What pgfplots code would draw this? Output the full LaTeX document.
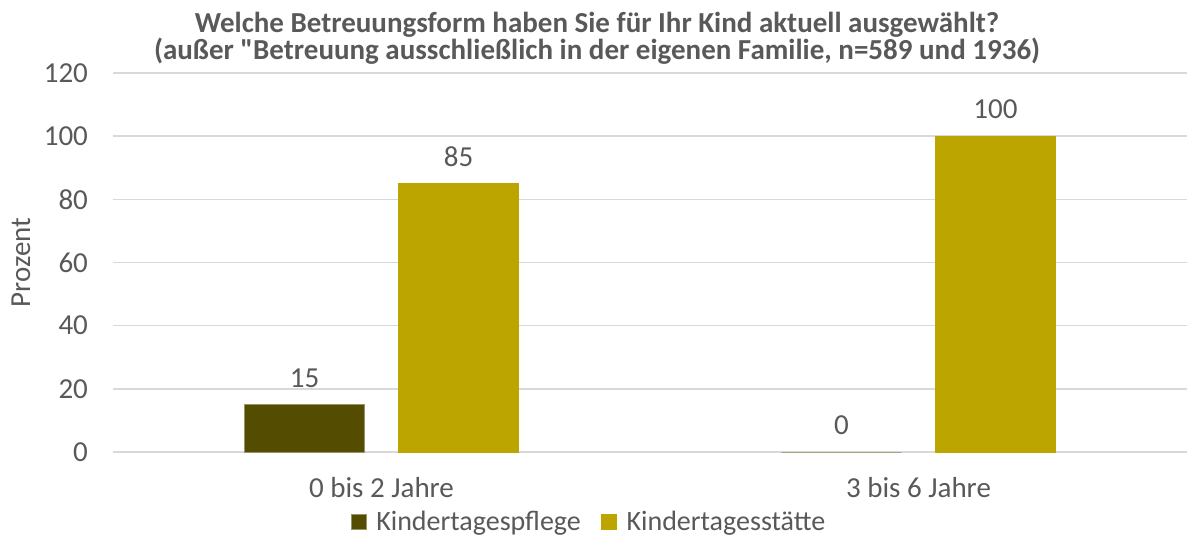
\documentclass[border=0pt]{standalone}
\usepackage{fontspec}
\setmainfont{Carlito}[Ligatures=TeXOff]
\usepackage{pgfplots}
\pgfplotsset{compat=1.18}
\definecolor{cPflege}{RGB}{84,76,0}
\definecolor{cStaette}{RGB}{189,165,0}
\definecolor{cText}{RGB}{89,89,89}
\definecolor{cGrid}{RGB}{217,217,217}
\begin{document}
\begin{tikzpicture}
\begin{axis}[
  scale only axis,
  width=537pt, height=189.5pt,
  ybar,
  xmin=-0.5, xmax=1.5,
  ymin=0, ymax=120,
  ytick={0,20,...,120},
  xtick={0,1},
  xticklabels={0 bis 2 Jahre,3 bis 6 Jahre},
  axis line style={draw=none},
  major tick length=0pt,
  ymajorgrids,
  major grid style={draw=cGrid, line width=0.8pt},
  tick label style={font=\fontsize{14.5}{17}\selectfont, text=cText},
  yticklabel style={xshift=-9pt},
  xticklabel style={yshift=-9pt},
  /pgf/number format/assume math mode=true,
  ylabel={Prozent},
  ylabel style={font=\fontsize{14.5}{17}\selectfont, text=cText, at={(axis description cs:-0.0857,0.5)}, anchor=center, rotate=0},
  title={Welche Betreuungsform haben Sie für Ihr Kind aktuell ausgewählt?\\(außer "Betreuung ausschließlich in der eigenen Familie, n=589 und 1936)},
  title style={at={(0.4507,1)}, anchor=south, yshift=-5pt, align=center, font=\bfseries\fontsize{14.5}{13.5}\selectfont, text=cText},
  bar width=0.2235,
  nodes near coords,
  every node near coord/.append style={font=\fontsize{14.5}{17}\selectfont, text=cText, yshift=5pt},
  legend style={at={(0.444,-0.185)}, anchor=center, draw=none, legend columns=2, font=\fontsize{14}{16}\selectfont, text=cText,
    /tikz/every even column/.append style={column sep=8pt},
    /tikz/every odd column/.append style={column sep=3pt}},
  legend image code/.code={\fill (0pt,-3.75pt) rectangle (7.5pt,3.75pt);},
]
\addplot[bar shift=-0.1434, fill=cPflege, draw=cPflege!60!white] coordinates {(0,15) (1,0)};
\addplot[bar shift=0.1434, fill=cStaette, draw=cStaette] coordinates {(0,85) (1,100)};
\legend{Kindertagespflege,Kindertagesstätte}
\end{axis}
\pgfresetboundingbox
\path[use as bounding box] (-56.5pt,-41.5pt) rectangle (537pt,226pt);
\end{tikzpicture}
\end{document}
